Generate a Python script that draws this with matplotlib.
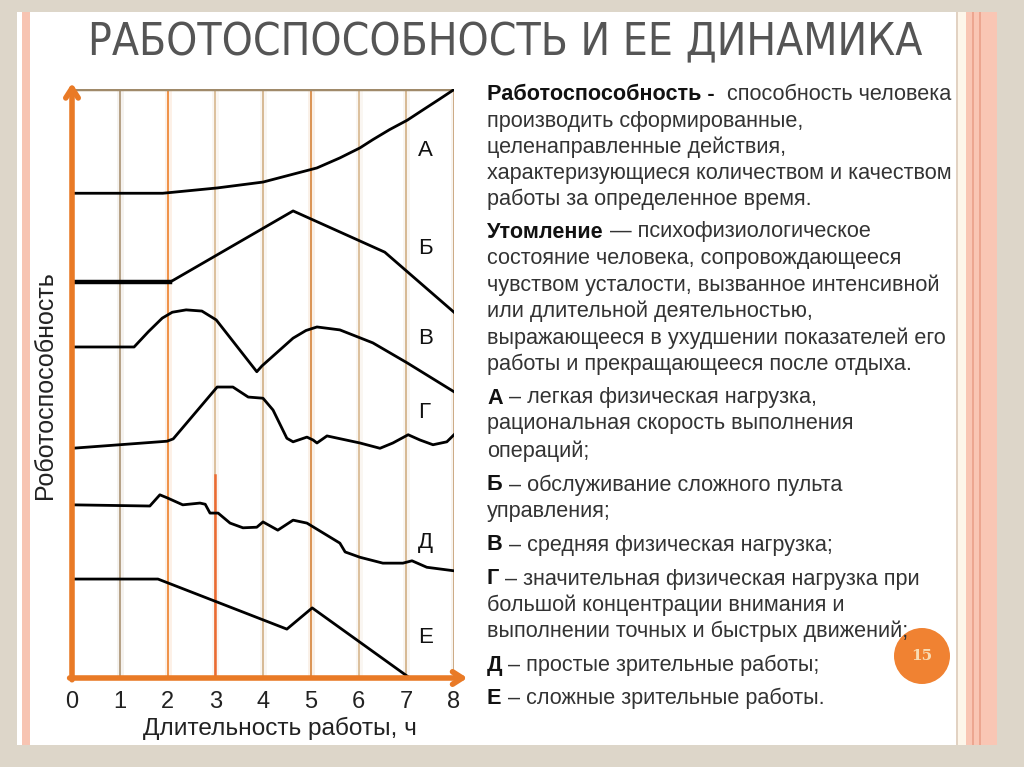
import matplotlib
matplotlib.use('Agg')
import matplotlib.pyplot as plt
from matplotlib.patches import Rectangle, Ellipse

# данные кривых (часы, работоспособность в условных единицах 0..100)
hours = list(range(9))

a_x = [0, 1.9, 3.04, 4.0, 5.13, 5.61, 6.03, 6.3, 6.65, 7.02, 7.34, 7.7, 7.98]
a_y = [82.3, 82.3, 83.2, 84.2, 86.6, 88.3, 90.0, 91.4, 93.1, 94.7, 96.4, 98.3, 99.8]

b_x = [0, 2.05, 4.63, 6.55, 8.0]
b_y = [67.2, 67.2, 79.3, 72.3, 62.1]

v_x = [0, 1.3, 1.6, 1.89, 2.1, 2.39, 2.72, 3.02, 3.87, 3.98, 4.63, 4.9, 5.13, 5.61, 6.3, 7.02, 8.0]
v_y = [56.2, 56.2, 58.8, 61.1, 62.1, 62.5, 62.3, 60.8, 52.0, 53.0, 57.7, 59.0, 59.6, 59.1, 56.9, 53.5, 48.6]

g_x = [0, 1.99, 2.12, 3.04, 3.37, 3.69, 4.0, 4.21, 4.5, 4.63, 4.92, 5.05, 5.13,
       5.34, 6.03, 6.45, 6.72, 7.04, 7.29, 7.56, 7.85, 8.0]
g_y = [39.0, 40.2, 40.6, 49.4, 49.4, 47.7, 47.5, 45.5, 40.7, 40.1, 40.9, 40.4, 39.9,
       41.1, 39.9, 39.0, 39.9, 41.3, 40.4, 39.6, 40.1, 41.3]

d_x = [0, 1.63, 1.84, 1.99, 2.32, 2.68, 2.79, 2.89, 3.06, 3.31, 3.58, 3.87, 4.0,
       4.31, 4.63, 4.92, 5.61, 5.72, 6.03, 6.51, 6.93, 7.12, 7.43, 8.0]
d_y = [29.4, 29.2, 31.1, 30.6, 29.4, 29.7, 29.5, 28.0, 28.0, 26.3, 25.5, 25.6, 26.5,
       25.1, 26.8, 26.3, 22.9, 21.4, 20.5, 19.5, 19.5, 19.9, 18.8, 18.2]

e_x = [0, 1.8, 4.5, 5.03, 7.04]
e_y = [16.8, 16.8, 8.3, 11.9, 0.2]

curve_names = ['А', 'Б', 'В', 'Г', 'Д', 'Е']
name_y = [89.6, 73.0, 57.6, 45.0, 23.0, 6.8]

text_lines = [
    ('Работоспособность -', '  способность человека'),
    ('', 'производить сформированные,'),
    ('', 'целенаправленные действия,'),
    ('', 'характеризующиеся количеством и качеством'),
    ('', 'работы за определенное время.'),
    ('Утомление', ' — психофизиологическое'),
    ('', 'состояние человека, сопровождающееся'),
    ('', 'чувством усталости, вызванное интенсивной'),
    ('', 'или длительной деятельностью,'),
    ('', 'выражающееся в ухудшении показателей его'),
    ('', 'работы и прекращающееся после отдыха.'),
    ('А', ' – легкая физическая нагрузка,'),
    ('', 'рациональная скорость выполнения'),
    ('', 'операций;'),
    ('Б', ' – обслуживание сложного пульта'),
    ('', 'управления;'),
    ('В', ' – средняя физическая нагрузка;'),
    ('Г', ' – значительная физическая нагрузка при'),
    ('', 'большой концентрации внимания и'),
    ('', 'выполнении точных и быстрых движений;'),
    ('Д', ' – простые зрительные работы;'),
    ('Е', ' – сложные зрительные работы.'),
]
text_y = [95, 121, 147, 173, 199, 232, 258, 285, 311, 338, 364,
          398, 424, 451, 485, 511, 545, 579, 605, 631, 665, 698]

W, H = 1024, 767
plt.rcParams['font.family'] = ['Liberation Sans', 'DejaVu Sans']

fig = plt.figure(figsize=(W / 100, H / 100), dpi=100)
fig.patch.set_facecolor('#ddd6c9')


def box(x0, y0, x1, y1, c):
    fig.add_artist(Rectangle((x0 / W, 1 - y1 / H), (x1 - x0) / W, (y1 - y0) / H,
                             transform=fig.transFigure, color=c, lw=0, zorder=-10))


# оформление слайда
box(17, 12, 956, 745, 'white')
box(22, 12, 30, 745, '#f7c4b2')
box(956, 12, 958, 745, '#e2d2c2')
box(958, 12, 966, 745, '#fdf6ea')
box(966, 12, 997, 745, '#f9c6b4')
box(972, 12, 974, 745, '#eca690')
box(979, 12, 981, 745, '#eca690')

fig.text(505 / W, 1 - 43 / H, 'РАБОТОСПОСОБНОСТЬ И ЕЕ ДИНАМИКА', ha='center', va='center',
         fontsize=31.8, color='#555555', family='DejaVu Sans', fontstretch='condensed')

ax = fig.add_axes([72 / W, 1 - 678 / H, 382 / W, 589 / H])
ax.set_xlim(0, 8)
ax.set_ylim(0, 100)
ax.patch.set_alpha(0)
for s in ax.spines.values():
    s.set_visible(False)

grid_colors = ['#b09a7c', '#ee8a3a', '#d9bc96', '#d4b48c', '#d88c48', '#d9bc96', '#d4b48c', '#c9a57c']
for h, c in zip(hours[1:], grid_colors):
    ax.axvline(h, color=c, lw=5, alpha=0.12)
    ax.axvline(h, color=c, lw=1.3)
ax.plot([3, 3], [0, 34.5], color='#ec6a30', lw=1.8)
ax.axhline(100, color='#a08a6a', lw=2.5)

for xs, ys in [(a_x, a_y), (b_x, b_y), (v_x, v_y), (g_x, g_y), (d_x, d_y), (e_x, e_y)]:
    ax.plot(xs, ys, color='black', lw=2, solid_joinstyle='round', zorder=3)
ax.plot(b_x[:2], b_y[:2], color='black', lw=3.2, zorder=3)

for n, y in zip(curve_names, name_y):
    ax.text(7.25, y, n, fontsize=16, va='center', ha='left', color='#111')

arrow = dict(arrowstyle='->,head_length=0.7,head_width=0.45', color='#e97a26', lw=4,
             shrinkA=0, shrinkB=0)
ax.annotate('', xy=(0, 101), xytext=(0, -0.3), arrowprops=arrow, annotation_clip=False)
ax.annotate('', xy=(8.28, 0), xytext=(-0.05, 0), arrowprops=arrow, annotation_clip=False)

ax.set_xticks(hours)
ax.set_xticklabels([str(h) for h in hours], fontsize=17, color='#222')
ax.tick_params(axis='x', length=0, pad=9)
ax.set_yticks([])

fig.text(280 / W, 1 - 728 / H, 'Длительность работы, ч', ha='center', va='center',
         fontsize=17.6, color='#222')
fig.text(45 / W, 1 - 385 / H, 'Роботоспособность', ha='center', va='center',
         rotation=90, fontsize=18, color='#222')

renderer = fig.canvas.get_renderer()
for (bold, rest), y in zip(text_lines, text_y):
    x = 487
    if bold:
        t = fig.text(x / W, 1 - y / H, bold, fontsize=15.6, fontweight='bold',
                     va='center', color='#111')
        x = t.get_window_extent(renderer).x1
    fig.text(x / W, 1 - y / H, rest, fontsize=15.6, va='center', color='#333')

fig.add_artist(Ellipse((922 / W, 1 - 656 / H), 56 / W, 56 / H, transform=fig.transFigure,
                       color='#f08232', lw=0))
fig.text(922 / W, 1 - 656 / H, '15', ha='center', va='center', fontsize=11,
         color='#f8dcb4', family='DejaVu Serif', fontweight='bold')

fig.savefig('out.png', dpi=100, facecolor=fig.get_facecolor())
